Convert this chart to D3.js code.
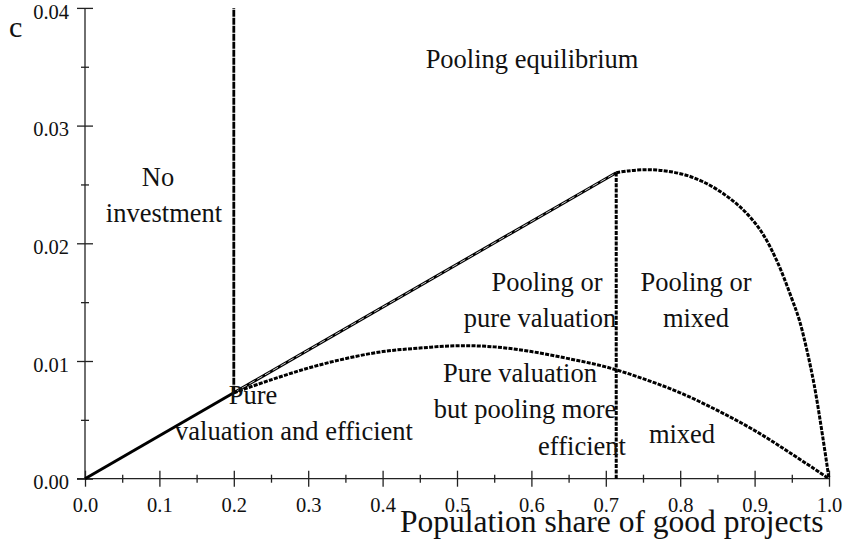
<!DOCTYPE html>
<html>
<head>
<meta charset="utf-8">
<script src="https://cdn.jsdelivr.net/npm/d3@7"></script>
<style>
  html, body { margin: 0; padding: 0; background: #fff; }
  svg { display: block; }
  text { font-family: "Liberation Serif", "Times New Roman", serif; fill: #111; }
</style>
</head>
<body>
<svg id="chart" width="847" height="545"></svg>
<script>
// ---------------- data ----------------
const xTickValues = [0, 0.1, 0.2, 0.3, 0.4, 0.5, 0.6, 0.7, 0.8, 0.9, 1.0];
const xTickLabels = ["0.0", "0.1", "0.2", "0.3", "0.4", "0.5", "0.6", "0.7", "0.8", "0.9", "1.0"];
const xMinorTicks = [0.05, 0.15, 0.25, 0.35, 0.45, 0.55, 0.65, 0.75, 0.85, 0.95];
const yTickValues = [0, 0.01, 0.02, 0.03, 0.04];
const yTickLabels = ["0.00", "0.01", "0.02", "0.03", "0.04"];
const yMinorTicks = [0.005, 0.015, 0.025, 0.035];

// solid segment from origin
const efficientP = [0, 0.2];
const efficientC = [0, 0.0073];
// no-investment boundary
const noInvestP = [0.2, 0.2];
const noInvestC = [0.0073, 0.04];
// pooling line
const poolLineP = [0.2, 0.714];
const poolLineC = [0.0073, 0.0260];
// split at 0.714
const splitP = [0.714, 0.714];
const splitC = [0, 0.0260];
// upper (mixed) curve
const upperP = [0.714, 0.73, 0.75, 0.77, 0.79, 0.81, 0.83, 0.85, 0.87, 0.89, 0.91, 0.93, 0.95, 0.96, 0.97, 0.98, 0.99, 1.0];
const upperC = [0.0260, 0.02615, 0.02625, 0.02622, 0.02605, 0.02575, 0.02525, 0.02455, 0.02365, 0.0225, 0.0209, 0.0185, 0.0153, 0.0135, 0.0110, 0.0080, 0.0042, 0.0];
// lower (pure valuation efficiency) curve
const lowerP = [0.2, 0.25, 0.3, 0.35, 0.4, 0.45, 0.5, 0.55, 0.6, 0.65, 0.7, 0.75, 0.8, 0.85, 0.9, 0.95, 1.0];
const lowerC = [0.0073, 0.0084, 0.0094, 0.0102, 0.0108, 0.0111, 0.0113, 0.0112, 0.0108, 0.0102, 0.0095, 0.0085, 0.0073, 0.0058, 0.0041, 0.0021, 0.0];

const regionLabels = [
  "Pooling equilibrium", "No", "investment",
  "Pooling or", "pure valuation",
  "Pooling or", "mixed",
  "Pure valuation", "but pooling more", "efficient",
  "mixed", "Pure", "valuation and efficient"
];
const xTitle = "Population share of good projects";
const yTitle = "c";

// ---------------- layout ----------------
const svg = d3.select("#chart");
const x = d3.scaleLinear().domain([0, 1]).range([85, 829]);
const y = d3.scaleLinear().domain([0, 0.04]).range([478.7, 7.9]);
const axisColor = "#222";

// x axis
const gx = svg.append("g").attr("transform", `translate(0,${y(0)})`);
gx.call(d3.axisBottom(x).tickValues(xTickValues).tickFormat((d, i) => xTickLabels[i]).tickSize(8).tickPadding(0));
gx.select(".domain").remove();
gx.selectAll(".tick line").attr("y1", -8).attr("y2", 8).attr("stroke", axisColor).attr("stroke-width", 1.3);
gx.selectAll(".tick text").attr("y", 33.5).attr("dy", null).style("font-size", "20.5px").style("font-family", "Liberation Serif").attr("fill", "#111");
const gxm = svg.append("g").attr("transform", `translate(0,${y(0)})`);
gxm.call(d3.axisBottom(x).tickValues(xMinorTicks).tickFormat("").tickSize(4));
gxm.select(".domain").remove();
gxm.selectAll(".tick line").attr("y1", -4).attr("y2", 4).attr("stroke", axisColor).attr("stroke-width", 1.3);
svg.append("line").attr("x1", 77).attr("x2", x(1)).attr("y1", y(0)).attr("y2", y(0))
  .attr("stroke", axisColor).attr("stroke-width", 1.3);

// y axis
const gy = svg.append("g").attr("transform", `translate(${x(0)},0)`);
gy.call(d3.axisLeft(y).tickValues(yTickValues).tickFormat((d, i) => yTickLabels[i]).tickSize(8).tickPadding(0));
gy.select(".domain").remove();
gy.selectAll(".tick line").attr("x1", 8).attr("x2", -8).attr("stroke", axisColor).attr("stroke-width", 1.3);
gy.selectAll(".tick text").attr("x", -16).attr("dy", "0.5em").style("font-size", "20.5px").style("font-family", "Liberation Serif").attr("fill", "#111");
const gym = svg.append("g").attr("transform", `translate(${x(0)},0)`);
gym.call(d3.axisLeft(y).tickValues(yMinorTicks).tickFormat("").tickSize(4));
gym.select(".domain").remove();
gym.selectAll(".tick line").attr("x1", 4).attr("x2", -4).attr("stroke", axisColor).attr("stroke-width", 1.3);
svg.append("line").attr("x1", x(0)).attr("x2", x(0)).attr("y1", y(0.04)).attr("y2", y(0))
  .attr("stroke", axisColor).attr("stroke-width", 1.3);

// ---------------- lines ----------------
const zip = (P, C) => P.map((p, i) => [p, C[i]]);
const line = d3.line().x(d => x(d[0])).y(d => y(d[1]));
const curve = d3.line().x(d => x(d[0])).y(d => y(d[1])).curve(d3.curveCatmullRom.alpha(0.5));

function dashed(path) {
  svg.append("path").attr("d", path).attr("fill", "none")
    .attr("stroke", "#000").attr("stroke-width", 3)
    .attr("stroke-dasharray", "4,1.3");
}
function doubled(path) {
  svg.append("path").attr("d", path).attr("fill", "none")
    .attr("stroke", "#000").attr("stroke-width", 3);
  svg.append("path").attr("d", path).attr("fill", "none")
    .attr("stroke", "#fff").attr("stroke-width", 0.8)
    .attr("stroke-dasharray", "6,3");
}
function dotted(path) {
  svg.append("path").attr("d", path).attr("fill", "none")
    .attr("stroke", "#000").attr("stroke-width", 2.8)
    .attr("stroke-dasharray", "7,1");
}

dotted(line(zip(noInvestP, noInvestC)));
doubled(line(zip(poolLineP, poolLineC)));
dashed(line(zip(splitP, splitC)));
dashed(curve(zip(upperP, upperC)));
dashed(curve(zip(lowerP, lowerC)));
svg.append("path").attr("d", line(zip(efficientP, efficientC))).attr("fill", "none")
  .attr("stroke", "#000").attr("stroke-width", 3);

// ---------------- text ----------------
const labelPos = [
  [532, 68], [158, 186], [164, 222],
  [547, 291], [540, 327],
  [696, 291], [696, 327],
  [520, 382], [525, 418], [582, 455],
  [682, 443], [253, 404], [294, 440]
];
svg.append("g").selectAll("text").data(regionLabels).join("text")
  .attr("x", (d, i) => labelPos[i][0]).attr("y", (d, i) => labelPos[i][1])
  .attr("text-anchor", "middle").style("font-size", "26.5px")
  .text(d => d);

svg.append("text").attr("x", 400).attr("y", 532).style("font-size", "31.5px").text(xTitle);
svg.append("text").attr("x", 9).attr("y", 37).style("font-size", "30px").text(yTitle);
</script>
</body>
</html>
